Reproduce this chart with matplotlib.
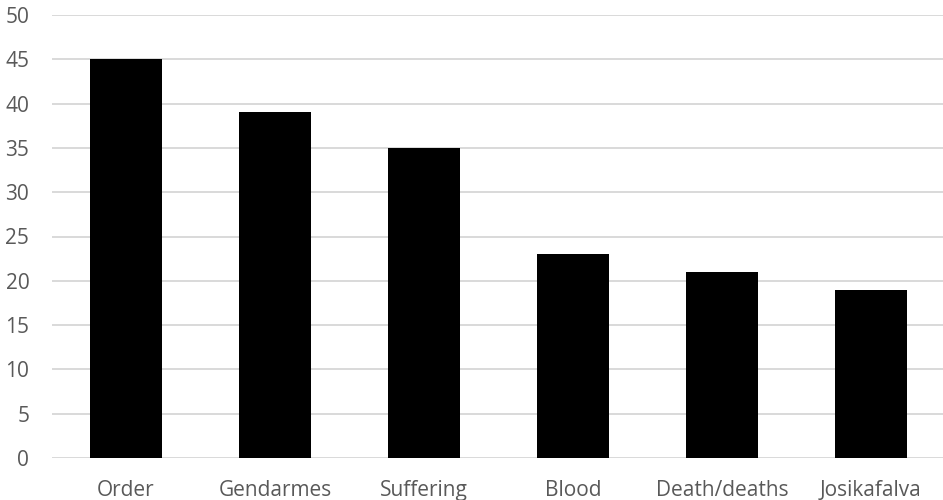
import matplotlib.pyplot as plt

# Data
categories = ["Order", "Gendarmes", "Suffering", "Blood", "Death/deaths", "Josikafalva"]
counts = [45, 39, 35, 23, 21, 19]
yticks = [0, 5, 10, 15, 20, 25, 30, 35, 40, 45, 50]

plt.rcParams['font.family'] = ['Open Sans', 'DejaVu Sans']

fig = plt.figure(figsize=(9.43, 5.0), dpi=100)
ax = fig.add_axes([51.5 / 943, 1 - 458 / 500, 894 / 943, 443 / 500])

ax.bar(range(len(categories)), counts, width=0.483, color="black", zorder=3)

ax.set_xlim(-0.5, len(categories) - 0.5)
ax.set_ylim(0, 50)
ax.set_yticks(yticks)
ax.set_xticks(range(len(categories)))
ax.set_xticklabels(categories)

ax.grid(axis="y", color="#d9d9d9", linewidth=1.4, zorder=0)
for s in ax.spines.values():
    s.set_visible(False)
ax.tick_params(axis="both", length=0, colors="#595959", labelsize=15)
ax.tick_params(axis="y", pad=16)
ax.tick_params(axis="x", pad=16)

fig.savefig("out.png", dpi=100)
